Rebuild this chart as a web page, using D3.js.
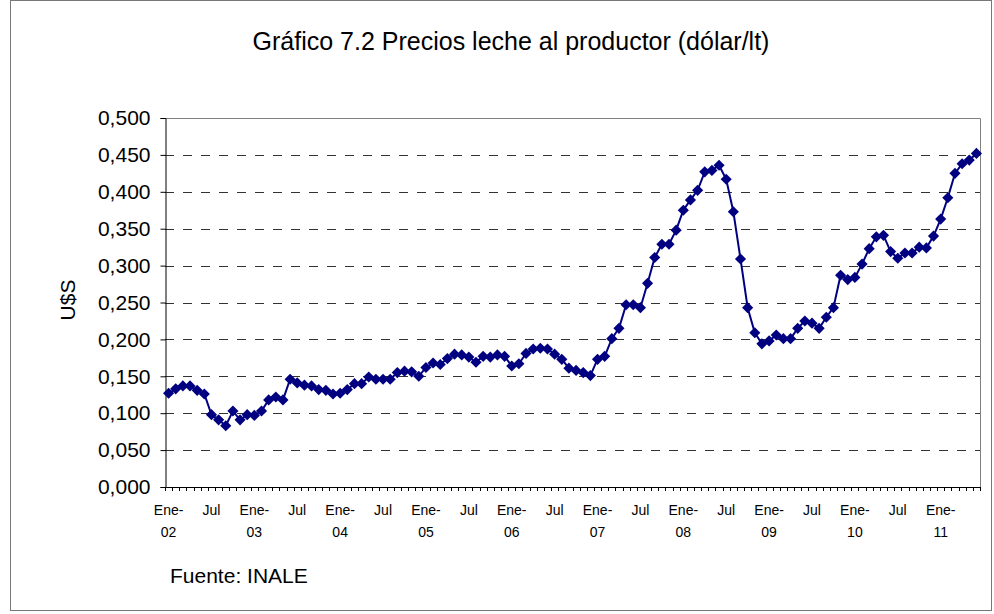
<!DOCTYPE html>
<html>
<head>
<meta charset="utf-8">
<title>Gráfico 7.2 Precios leche al productor</title>
<script src="https://d3js.org/d3.v7.min.js"></script>
<style>
  body { margin: 0; background: #fff; }
  text { font-family: "Liberation Sans", Arial, sans-serif; fill: #000; }
</style>
</head>
<body>
<svg width="994" height="614"></svg>
<script>
// monthly categories Ene-02 .. Jun-11
var meses = ["Ene","Feb","Mar","Abr","May","Jun","Jul","Ago","Set","Oct","Nov","Dic"];
var anios = ["02","03","04","05","06","07","08","09","10","11"];

// US$ per litre
var precios = [
  0.127, 0.133, 0.137, 0.137, 0.131, 0.126, 0.098, 0.091, 0.083, 0.103, 0.091, 0.098,
  0.097, 0.103, 0.118, 0.122, 0.118, 0.146, 0.141, 0.138, 0.137, 0.132, 0.131, 0.126,
  0.127, 0.132, 0.140, 0.140, 0.149, 0.146, 0.146, 0.146, 0.155, 0.157, 0.156, 0.150,
  0.162, 0.168, 0.166, 0.174, 0.180, 0.179, 0.176, 0.169, 0.177, 0.176, 0.179, 0.177,
  0.164, 0.167, 0.181, 0.187, 0.188, 0.187, 0.180, 0.173, 0.161, 0.158, 0.155, 0.151,
  0.173, 0.177, 0.201, 0.215, 0.247, 0.247, 0.243, 0.276, 0.311, 0.329, 0.329, 0.348,
  0.375, 0.389, 0.402, 0.427, 0.429, 0.436, 0.417, 0.373, 0.309, 0.243, 0.209, 0.194,
  0.198, 0.206, 0.201, 0.201, 0.215, 0.225, 0.222, 0.215, 0.230, 0.243, 0.287, 0.281,
  0.284, 0.302, 0.323, 0.339, 0.341, 0.319, 0.310, 0.317, 0.317, 0.325, 0.324, 0.340,
  0.363, 0.392, 0.425, 0.438, 0.443, 0.452
];

// labels shown every 6 months
var etiquetasX = ["Ene-\n02","Jul","Ene-\n03","Jul","Ene-\n04","Jul","Ene-\n05","Jul",
  "Ene-\n06","Jul","Ene-\n07","Jul","Ene-\n08","Jul","Ene-\n09","Jul","Ene-\n10","Jul","Ene-\n11"];
var ticksY = [0, 0.05, 0.1, 0.15, 0.2, 0.25, 0.3, 0.35, 0.4, 0.45, 0.5];

var categorias = [];
anios.forEach(function(a) {
  meses.forEach(function(m) { categorias.push(m + "-" + a); });
});
categorias = categorias.slice(0, precios.length);
var datos = precios.map(function(v, i) { return {cat: categorias[i], valor: v}; });

var svg = d3.select("svg");
var plotL = 165, plotR = 980, plotT = 118, plotB = 487;

// outer frame
svg.append("rect")
  .attr("x", 10.5).attr("y", 0.5)
  .attr("width", 981).attr("height", 610)
  .attr("fill", "none").attr("stroke", "#777");

var x = d3.scaleBand().domain(categorias).range([plotL, plotR]);
var y = d3.scaleLinear().domain([0, 0.5]).range([plotB, plotT]);
var cx = function(d) { return x(d.cat) + x.bandwidth() / 2; };

// gridlines
svg.append("g")
  .selectAll("line")
  .data(ticksY.filter(function(t) { return t > 0 && t < 0.5; }))
  .enter().append("line")
  .attr("x1", plotL).attr("x2", plotR)
  .attr("y1", function(d) { return Math.round(y(d)) + 0.5; })
  .attr("y2", function(d) { return Math.round(y(d)) + 0.5; })
  .attr("stroke", "#333")
  .attr("stroke-dasharray", "9,9");

// plot border top / right
svg.append("path")
  .attr("d", "M" + plotL + "," + (plotT + 0.5) + "H" + (plotR + 0.5) + "V" + plotB)
  .attr("fill", "none").attr("stroke", "#808080");

// y axis
var fmt = d3.format(".3f");
var yAxis = d3.axisLeft(y)
  .tickValues(ticksY)
  .tickSize(5)
  .tickPadding(10)
  .tickFormat(function(d) { return fmt(d).replace(".", ","); });

var gy = svg.append("g")
  .attr("transform", "translate(" + (plotL + 0.5) + ",0)")
  .call(yAxis);
gy.select(".domain").attr("stroke", "#000");
gy.selectAll(".tick line").attr("stroke", "#000");
gy.selectAll("text")
  .attr("font-size", 21)
  .attr("font-family", "Liberation Sans, Arial, sans-serif");

// x axis: minor ticks on category boundaries
var gx = svg.append("g");
gx.append("line")
  .attr("x1", plotL).attr("x2", plotR + 1)
  .attr("y1", plotB + 0.5).attr("y2", plotB + 0.5)
  .attr("stroke", "#000");
gx.selectAll("line.tk")
  .data(d3.range(categorias.length + 1))
  .enter().append("line")
  .attr("class", "tk")
  .attr("x1", function(i) { return Math.round(plotL + i * x.step()) + 0.5; })
  .attr("x2", function(i) { return Math.round(plotL + i * x.step()) + 0.5; })
  .attr("y1", plotB).attr("y2", plotB + 4)
  .attr("stroke", "#000");

var lbl = gx.selectAll("text.lbl")
  .data(etiquetasX)
  .enter().append("text")
  .attr("class", "lbl")
  .attr("font-size", 14)
  .attr("text-anchor", "middle")
  .attr("transform", function(d, i) {
    return "translate(" + cx(datos[i * 6]) + ",515)";
  });
lbl.each(function(d) {
  var t = d3.select(this);
  d.split("\n").forEach(function(s, k) {
    t.append("tspan").attr("x", 0).attr("y", k * 22).text(s);
  });
});

// series
var line = d3.line()
  .x(cx)
  .y(function(d) { return y(d.valor); });

svg.append("path")
  .datum(datos)
  .attr("fill", "none")
  .attr("stroke", "#000080")
  .attr("stroke-width", 2)
  .attr("d", line);

svg.append("g")
  .selectAll("path")
  .data(datos)
  .enter().append("path")
  .attr("d", d3.symbol().type(d3.symbolSquare).size(62))
  .attr("transform", function(d) {
    return "translate(" + cx(d) + "," + y(d.valor) + ") rotate(45)";
  })
  .attr("fill", "#000080");

// titles
svg.append("text")
  .attr("x", 511).attr("y", 50)
  .attr("text-anchor", "middle")
  .attr("font-size", 25)
  .text("Gráfico 7.2 Precios leche al productor (dólar/lt)");

svg.append("text")
  .attr("transform", "translate(75,300) rotate(-90)")
  .attr("text-anchor", "middle")
  .attr("font-size", 21)
  .text("U$S");

svg.append("text")
  .attr("x", 170).attr("y", 583)
  .attr("font-size", 21)
  .text("Fuente: INALE");
</script>
</body>
</html>
